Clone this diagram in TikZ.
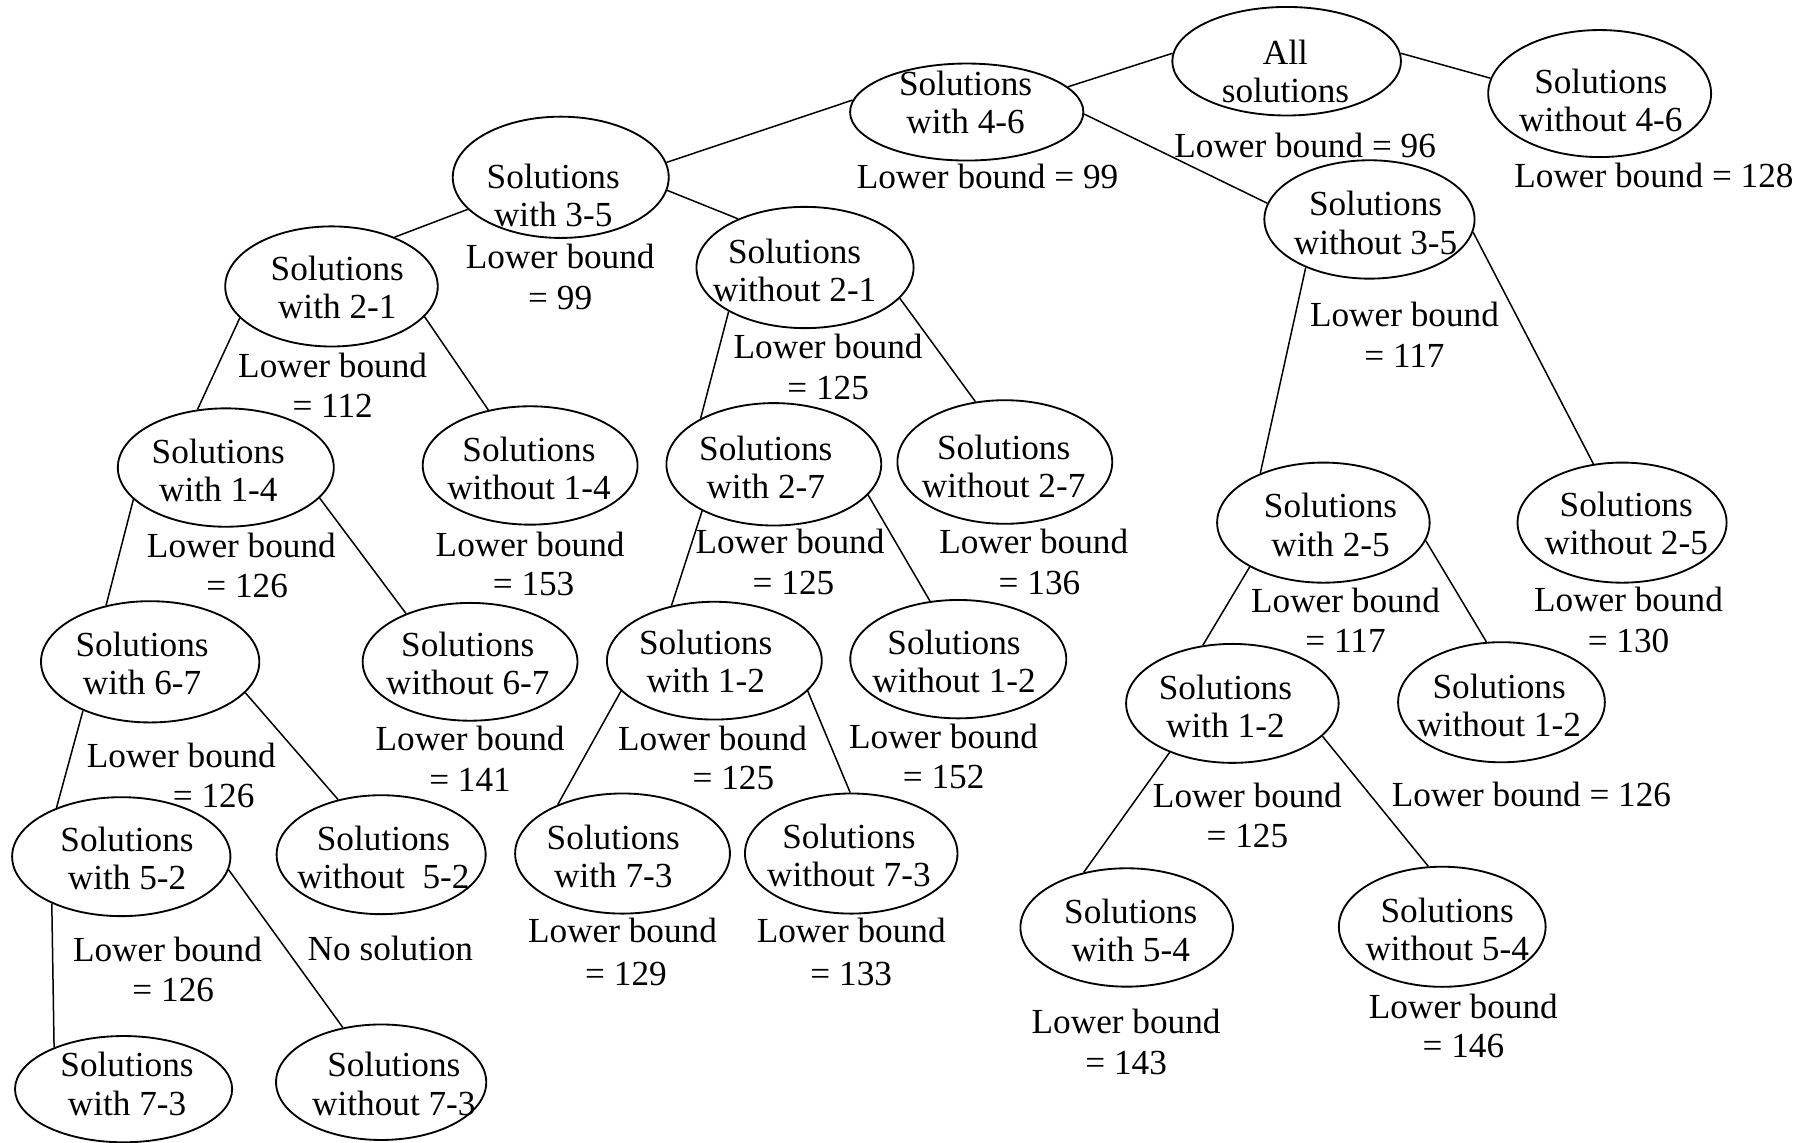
\documentclass[tikz,border=0pt]{standalone}
\usepackage{fontspec}
\setmainfont{Liberation Serif}
\usetikzlibrary{shapes.geometric}
% name, x, y, width, height, text x, text y, text
\newcommand\ellnode[8]{%
  \node[ell,minimum width=#4pt,minimum height=#5pt] (#1) at (#2,#3) {};
  \node[ntxt] (#1t) at (#6,#7) {#8};}
\begin{document}
\begin{tikzpicture}[x=1pt,y=-1pt,
  ell/.style={draw,ellipse,line width=1.6pt,inner sep=0pt},
  ntxt/.style={align=center,inner sep=0pt,font=\fontsize{30.5}{33}\selectfont},
  lb/.style={inner sep=0pt,font=\fontsize{30.5}{33}\selectfont},
  edge/.style={line width=1.3pt}]
\useasboundingbox[fill=white] (0,0) rectangle (1568,989);
% ellipses
\ellnode{A}{1114}{53}{198}{94}{1113}{62}{All\\solutions}
\ellnode{B}{837}{97}{202}{84}{836}{89}{Solutions\\with 4-6}
\ellnode{C}{1385}{81}{193}{110}{1386}{87}{Solutions\\without 4-6}
\ellnode{D}{485.5}{153.5}{187}{105}{479}{169}{Solutions\\with 3-5}
\ellnode{E}{1185.7}{190}{182}{102.5}{1191}{193}{Solutions\\without 3-5}
\ellnode{F}{287}{248}{184}{104}{292}{249}{Solutions\\with 2-1}
\ellnode{G}{697}{231.6}{188}{105}{688}{234}{Solutions\\without 2-1}
\ellnode{H}{195.5}{404.8}{187}{102.5}{189}{407}{Solutions\\with 1-4}
\ellnode{I}{459}{403}{186}{102.5}{458}{405.5}{Solutions\\without 1-4}
\ellnode{J}{670}{402}{186}{106}{663}{404.5}{Solutions\\with 2-7}
\ellnode{K}{870}{400}{186}{107}{869}{403.5}{Solutions\\without 2-7}
\ellnode{L}{1145.8}{452.5}{184}{104}{1152}{454.5}{Solutions\\with 2-5}
\ellnode{M}{1404.4}{452.5}{181}{104}{1408}{453.5}{Solutions\\without 2-5}
\ellnode{N}{130}{573}{189}{105}{123}{574.5}{Solutions\\with 6-7}
\ellnode{O}{407}{573}{186}{102}{405}{574.5}{Solutions\\without 6-7}
\ellnode{P}{618.5}{572}{186}{102}{611}{573}{Solutions\\with 1-2}
\ellnode{Q}{829.7}{570.7}{187}{102.5}{826}{572.5}{Solutions\\without 1-2}
\ellnode{R}{1067}{609}{184}{103}{1061}{611.5}{Solutions\\with 1-2}
\ellnode{S}{1300}{608}{179}{104}{1298}{610.5}{Solutions\\without 1-2}
\ellnode{T}{105}{741.7}{189}{103}{110}{743.5}{Solutions\\with 5-2}
\ellnode{U}{330}{740}{181}{103}{332}{742.5}{Solutions\\without\ \ 5-2}
\ellnode{V}{539}{739}{186}{104}{531}{741.5}{Solutions\\with 7-3}
\ellnode{W}{737}{739}{184}{104}{735}{741}{Solutions\\without 7-3}
\ellnode{X}{975.5}{803}{184}{102.5}{979}{805.5}{Solutions\\with 5-4}
\ellnode{Y}{1248.7}{802.4}{179}{104}{1253}{804.5}{Solutions\\without 5-4}
\ellnode{Z}{107}{943}{188}{92}{110}{938.5}{Solutions\\with 7-3}
\ellnode{ZZ}{330}{937}{182}{100}{341}{938.5}{Solutions\\without 7-3}
% edges
\draw[edge] (A.176) -- (B.14);
\draw[edge] (A.4) -- (C.172);
\draw[edge] (B.174) -- (D.8);
\draw[edge] (B.-1.5) -- (E.171);
\draw[edge] (D.199) -- (F.38);
\draw[edge] (D.-7.6) -- (G.144);
\draw[edge] (F.199.4) -- (H.116.4);
\draw[edge] (F.-18) -- (I.127.8);
\draw[edge] (G.210.8) -- (J.148.4);
\draw[edge] (G.-18.4) -- (K.116.8);
\draw[edge] (E.217.8) -- (L.142.4);
\draw[edge] (E.-7.5) -- (M.116.3);
\draw[edge] (H.199.4) -- (N.128.3);
\draw[edge] (H.-18.7) -- (O.143.4);
\draw[edge] (J.213.3) -- (P.128);
\draw[edge] (J.-18.9) -- (Q.116.7);
\draw[edge] (L.211.5) -- (R.117.3);
\draw[edge] (L.-10.5) -- (S.104.2);
\draw[edge] (N.216) -- (T.143.1);
\draw[edge] (N.-18.1) -- (U.128);
\draw[edge] (P.198.7) -- (V.143.6);
\draw[edge] (P.-18.7) -- (W.91);
\draw[edge] (R.218.3) -- (X.128.3);
\draw[edge] (R.-20.3) -- (Y.103);
\draw[edge] (T.214.8) -- (Z.149.9);
\draw[edge] (T.-7.8) -- (ZZ.125.8);
% bounds
\node[lb] (lA) at (1130,126) {Lower bound = 96};
\node[lb] (lB) at (855,153) {Lower bound = 99};
\node[lb] (lC) at (1432,152) {Lower bound = 128};
\node[lb] (lD1) at (485,222) {Lower bound};
\node[lb] (lD2) at (485,258) {= 99};
\node[lb] (lE1) at (1216,272) {Lower bound};
\node[lb] (lE2) at (1216,308) {= 117};
\node[lb] (lF1) at (288,316) {Lower bound};
\node[lb] (lF2) at (288,351) {= 112};
\node[lb] (lG1) at (717,300) {Lower bound};
\node[lb] (lG2) at (717,336) {= 125};
\node[lb] (lH1) at (209,472) {Lower bound};
\node[lb] (lH2) at (214,507) {= 126};
\node[lb] (lI1) at (459,471) {Lower bound};
\node[lb] (lI2) at (462,506) {= 153};
\node[lb] (lJ1) at (684,469) {Lower bound};
\node[lb] (lJ2) at (687,505) {= 125};
\node[lb] (lK1) at (895,469) {Lower bound};
\node[lb] (lK2) at (900,505) {= 136};
\node[lb] (lL1) at (1165,520) {Lower bound};
\node[lb] (lL2) at (1165,555) {= 117};
\node[lb] (lM1) at (1410,519) {Lower bound};
\node[lb] (lM2) at (1410,555) {= 130};
\node[lb] (lN1) at (157,654) {Lower bound};
\node[lb] (lN2) at (185,689) {= 126};
\node[lb] (lO1) at (407,639) {Lower bound};
\node[lb] (lO2) at (407,675) {= 141};
\node[lb] (lP1) at (617,639) {Lower bound};
\node[lb] (lP2) at (635,674) {= 125};
\node[lb] (lQ1) at (817,638) {Lower bound};
\node[lb] (lQ2) at (817,673) {= 152};
\node[lb] (lR1) at (1080,689) {Lower bound};
\node[lb] (lR2) at (1080,724) {= 125};
\node[lb] (lS) at (1326,688) {Lower bound = 126};
\node[lb] (lT1) at (145,822) {Lower bound};
\node[lb] (lT2) at (150,857) {= 126};
\node[lb] (lU) at (338,821) {No solution};
\node[lb] (lV1) at (539,806) {Lower bound};
\node[lb] (lV2) at (542,843) {= 129};
\node[lb] (lW1) at (737,806) {Lower bound};
\node[lb] (lW2) at (737,843) {= 133};
\node[lb] (lX1) at (975,884) {Lower bound};
\node[lb] (lX2) at (975,920) {= 143};
\node[lb] (lY1) at (1267,871) {Lower bound};
\node[lb] (lY2) at (1267,906) {= 146};
\end{tikzpicture}
\end{document}
